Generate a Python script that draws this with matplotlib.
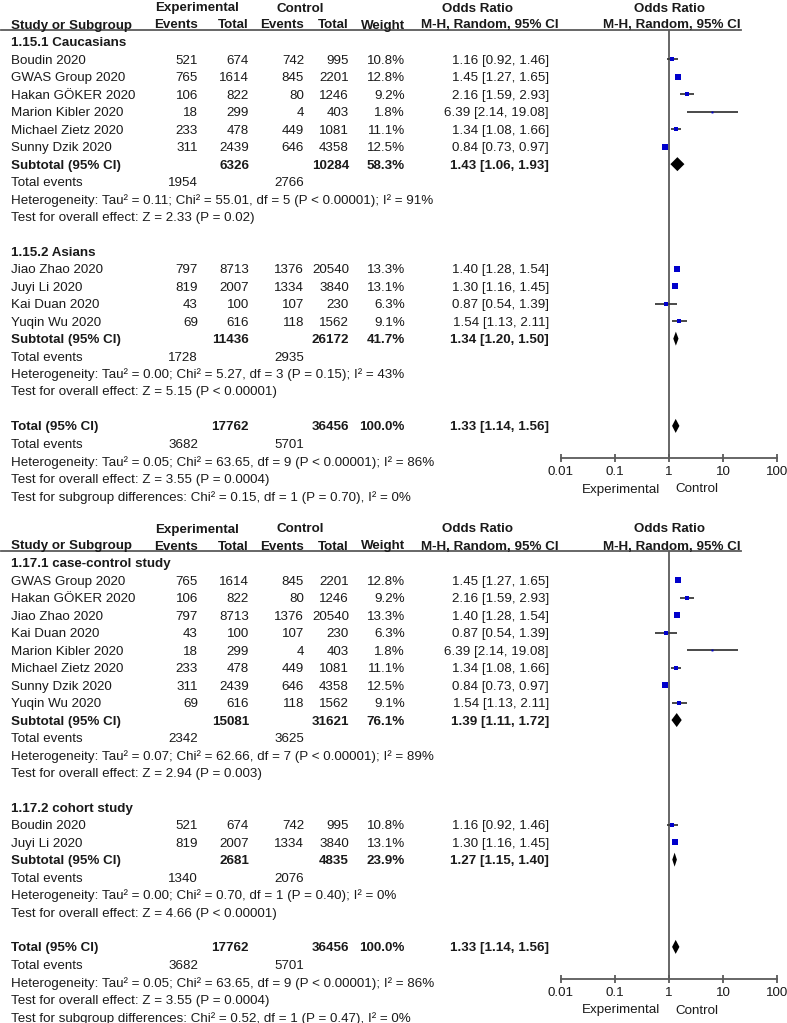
import matplotlib
matplotlib.use('Agg')
import matplotlib.pyplot as plt
from matplotlib.ticker import NullLocator

# ---------------- data ----------------
study_names = ["Boudin 2020", "GWAS Group 2020", "Hakan GÖKER 2020", "Marion Kibler 2020",
               "Michael Zietz 2020", "Sunny Dzik 2020", "Jiao Zhao 2020", "Juyi Li 2020",
               "Kai Duan 2020", "Yuqin Wu 2020"]
exp_events = [521, 765, 106, 18, 233, 311, 797, 819, 43, 69]
exp_total = [674, 1614, 822, 299, 478, 2439, 8713, 2007, 100, 616]
ctl_events = [742, 845, 80, 4, 449, 646, 1376, 1334, 107, 118]
ctl_total = [995, 2201, 1246, 403, 1081, 4358, 20540, 3840, 230, 1562]
weights = [10.8, 12.8, 9.2, 1.8, 11.1, 12.5, 13.3, 13.1, 6.3, 9.1]
odds = [1.16, 1.45, 2.16, 6.39, 1.34, 0.84, 1.40, 1.30, 0.87, 1.54]
ci_low = [0.92, 1.27, 1.59, 2.14, 1.08, 0.73, 1.28, 1.16, 0.54, 1.13]
ci_high = [1.46, 1.65, 2.93, 19.08, 1.66, 0.97, 1.54, 1.45, 1.39, 2.11]

# panel 1 (1.15) subgroups
p1_titles = ["1.15.1 Caucasians", "1.15.2 Asians"]
p1_members = [["Boudin 2020", "GWAS Group 2020", "Hakan GÖKER 2020", "Marion Kibler 2020",
               "Michael Zietz 2020", "Sunny Dzik 2020"],
              ["Jiao Zhao 2020", "Juyi Li 2020", "Kai Duan 2020", "Yuqin Wu 2020"]]
p1_sub_exp_total = [6326, 11436]
p1_sub_ctl_total = [10284, 26172]
p1_sub_weight = [58.3, 41.7]
p1_sub_or = [1.43, 1.34]
p1_sub_low = [1.06, 1.20]
p1_sub_high = [1.93, 1.50]
p1_sub_exp_events = [1954, 1728]
p1_sub_ctl_events = [2766, 2935]
p1_sub_het = ["Heterogeneity: Tau² = 0.11; Chi² = 55.01, df = 5 (P < 0.00001); I² = 91%",
              "Heterogeneity: Tau² = 0.00; Chi² = 5.27, df = 3 (P = 0.15); I² = 43%"]
p1_sub_test = ["Test for overall effect: Z = 2.33 (P = 0.02)",
               "Test for overall effect: Z = 5.15 (P < 0.00001)"]
p1_subgroup_diff = "Test for subgroup differences: Chi² = 0.15, df = 1 (P = 0.70), I² = 0%"

# panel 2 (1.17) subgroups
p2_titles = ["1.17.1 case-control study", "1.17.2 cohort study"]
p2_members = [["GWAS Group 2020", "Hakan GÖKER 2020", "Jiao Zhao 2020", "Kai Duan 2020",
               "Marion Kibler 2020", "Michael Zietz 2020", "Sunny Dzik 2020", "Yuqin Wu 2020"],
              ["Boudin 2020", "Juyi Li 2020"]]
p2_sub_exp_total = [15081, 2681]
p2_sub_ctl_total = [31621, 4835]
p2_sub_weight = [76.1, 23.9]
p2_sub_or = [1.39, 1.27]
p2_sub_low = [1.11, 1.15]
p2_sub_high = [1.72, 1.40]
p2_sub_exp_events = [2342, 1340]
p2_sub_ctl_events = [3625, 2076]
p2_sub_het = ["Heterogeneity: Tau² = 0.07; Chi² = 62.66, df = 7 (P < 0.00001); I² = 89%",
              "Heterogeneity: Tau² = 0.00; Chi² = 0.70, df = 1 (P = 0.40); I² = 0%"]
p2_sub_test = ["Test for overall effect: Z = 2.94 (P = 0.003)",
               "Test for overall effect: Z = 4.66 (P < 0.00001)"]
p2_subgroup_diff = "Test for subgroup differences: Chi² = 0.52, df = 1 (P = 0.47), I² = 0%"

# overall
tot_exp_total, tot_ctl_total, tot_weight = 17762, 36456, 100.0
tot_or, tot_low, tot_high = 1.33, 1.14, 1.56
tot_exp_events, tot_ctl_events = 3682, 5701
tot_het = "Heterogeneity: Tau² = 0.05; Chi² = 63.65, df = 9 (P < 0.00001); I² = 86%"
tot_test = "Test for overall effect: Z = 3.55 (P = 0.0004)"

tick_values = [0.01, 0.1, 1, 10, 100]
tick_labels = ["0.01", "0.1", "1", "10", "100"]

# ---------------- style ----------------
plt.rcParams['font.family'] = ['Liberation Sans', 'DejaVu Sans']
W, H = 787, 1023
FS = 9.6
TC = '#1a1a1a'
LC = '#5a5a5a'
CIC = '#3a3a3a'
BLUE = '#0000cc'
STEP = 17.45
TXT_DY = 1.5

X_NAME, X_EE, X_ET, X_CE, X_CT, X_W, X_OR = 11, 198, 249, 304, 349, 405, 549
AX_L, AX_R = 561, 777

fig = plt.figure(figsize=(W / 100, H / 100), dpi=100)
bg = fig.add_axes([0, 0, 1, 1])
bg.set_xlim(0, W)
bg.set_ylim(H, 0)
bg.axis('off')


def txt(x, y, s, ha='left', bold=False):
    bg.text(x, y + TXT_DY, s, ha=ha, va='center', fontsize=FS, color=TC,
            fontweight='bold' if bold else 'normal')


def ci_str(o, l, h):
    return f"{o:.2f} [{l:.2f}, {h:.2f}]"


def draw_panel(base, titles, members, s_et, s_ct, s_w, s_or, s_lo, s_hi,
               s_ee, s_ce, s_het, s_test, diff_text):
    # headers
    h1, h2, line_y = base - 35, base - 18, base - 12
    txt(197, h1, "Experimental", 'center', True)
    txt(300, h1, "Control", 'center', True)
    txt(478, h1, "Odds Ratio", 'center', True)
    txt(670, h1, "Odds Ratio", 'center', True)
    txt(X_NAME, h2, "Study or Subgroup", 'left', True)
    txt(X_EE, h2, "Events", 'right', True)
    txt(X_ET, h2, "Total", 'right', True)
    txt(X_CE, h2, "Events", 'right', True)
    txt(X_CT, h2, "Total", 'right', True)
    txt(X_W, h2, "Weight", 'right', True)
    txt(490, h2, "M-H, Random, 95% CI", 'center', True)
    txt(672, h2, "M-H, Random, 95% CI", 'center', True)
    bg.plot([1, 741], [line_y, line_y], color=LC, lw=1.3)

    axis_y = base + 416
    ax = fig.add_axes([AX_L / W, 1 - axis_y / H, (AX_R - AX_L) / W, (axis_y - line_y) / H])
    ax.set_xscale('log')
    ax.set_xlim(tick_values[0], tick_values[-1])
    ax.set_ylim(axis_y, line_y)
    ax.patch.set_alpha(0)
    for s in ['top', 'left', 'right']:
        ax.spines[s].set_visible(False)
    ax.spines['bottom'].set_color(LC)
    ax.spines['bottom'].set_linewidth(1.3)
    ax.set_xticks(tick_values)
    ax.set_xticklabels(tick_labels)
    ax.xaxis.set_minor_locator(NullLocator())
    ax.tick_params(axis='x', direction='inout', length=6, width=1.3, color=LC,
                   labelsize=FS, labelcolor=TC, pad=3)
    ax.set_yticks([])
    ax.axvline(1, color=LC, lw=1.3, zorder=1)
    txt(660, axis_y + 30, "Experimental", 'right')
    txt(675, axis_y + 30, "Control", 'left')

    def diamond(y, o, l, h):
        ax.fill([l, o, h, o], [y, y - 7, y, y + 7], color='black', lw=0, zorder=4)

    r = 0
    for g in range(len(titles)):
        y = base + r * STEP
        txt(X_NAME, y, titles[g], 'left', True)
        r += 1
        for name in members[g]:
            i = study_names.index(name)
            y = base + r * STEP
            txt(X_NAME, y, name)
            txt(X_EE, y, str(exp_events[i]), 'right')
            txt(X_ET, y, str(exp_total[i]), 'right')
            txt(X_CE, y, str(ctl_events[i]), 'right')
            txt(X_CT, y, str(ctl_total[i]), 'right')
            txt(X_W, y, f"{weights[i]:.1f}%", 'right')
            txt(X_OR, y, ci_str(odds[i], ci_low[i], ci_high[i]), 'right')
            ax.plot([ci_low[i], ci_high[i]], [y, y], color=CIC, lw=1.3,
                    solid_capstyle='butt', zorder=2)
            side = 1.45 * weights[i] ** 0.5
            ax.plot([odds[i]], [y], marker='s', ms=side * 0.72, color=BLUE,
                    mew=0, zorder=3)
            r += 1
        y = base + r * STEP
        txt(X_NAME, y, "Subtotal (95% CI)", 'left', True)
        txt(X_ET, y, str(s_et[g]), 'right', True)
        txt(X_CT, y, str(s_ct[g]), 'right', True)
        txt(X_W, y, f"{s_w[g]:.1f}%", 'right', True)
        txt(X_OR, y, ci_str(s_or[g], s_lo[g], s_hi[g]), 'right', True)
        diamond(y, s_or[g], s_lo[g], s_hi[g])
        r += 1
        y = base + r * STEP
        txt(X_NAME, y, "Total events")
        txt(X_EE, y, str(s_ee[g]), 'right')
        txt(X_CE, y, str(s_ce[g]), 'right')
        r += 1
        txt(X_NAME, base + r * STEP, s_het[g])
        r += 1
        txt(X_NAME, base + r * STEP, s_test[g])
        r += 2

    y = base + r * STEP
    txt(X_NAME, y, "Total (95% CI)", 'left', True)
    txt(X_ET, y, str(tot_exp_total), 'right', True)
    txt(X_CT, y, str(tot_ctl_total), 'right', True)
    txt(X_W, y, f"{tot_weight:.1f}%", 'right', True)
    txt(X_OR, y, ci_str(tot_or, tot_low, tot_high), 'right', True)
    diamond(y, tot_or, tot_low, tot_high)
    r += 1
    y = base + r * STEP
    txt(X_NAME, y, "Total events")
    txt(X_EE, y, str(tot_exp_events), 'right')
    txt(X_CE, y, str(tot_ctl_events), 'right')
    r += 1
    txt(X_NAME, base + r * STEP, tot_het)
    r += 1
    txt(X_NAME, base + r * STEP, tot_test)
    r += 1
    txt(X_NAME, base + r * STEP, diff_text)


draw_panel(42, p1_titles, p1_members, p1_sub_exp_total, p1_sub_ctl_total, p1_sub_weight,
           p1_sub_or, p1_sub_low, p1_sub_high, p1_sub_exp_events, p1_sub_ctl_events,
           p1_sub_het, p1_sub_test, p1_subgroup_diff)
draw_panel(563, p2_titles, p2_members, p2_sub_exp_total, p2_sub_ctl_total, p2_sub_weight,
           p2_sub_or, p2_sub_low, p2_sub_high, p2_sub_exp_events, p2_sub_ctl_events,
           p2_sub_het, p2_sub_test, p2_subgroup_diff)

fig.savefig('out.png', dpi=100)
